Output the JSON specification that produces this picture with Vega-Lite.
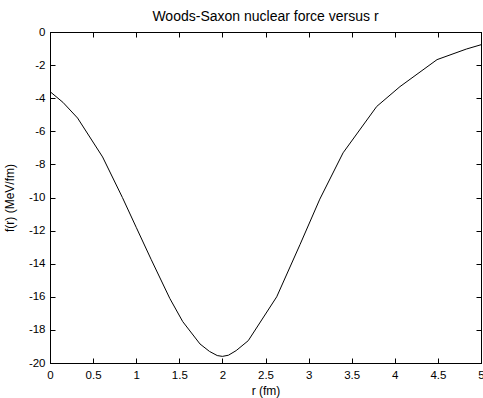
{
  "$schema": "https://vega.github.io/schema/vega-lite/v6.json",
  "autosize": "none",
  "width": 431,
  "height": 331,
  "padding": {"left": 50, "top": 32, "right": 2, "bottom": 35},
  "background": "white",
  "title": {"text": "Woods-Saxon nuclear force versus r", "fontSize": 14, "font": "Liberation Sans", "fontWeight": "normal", "color": "#000", "offset": 2, "anchor": "middle"},
  "config": {
    "view": {"stroke": "#000", "strokeWidth": 1},
    "axis": {"grid": false, "domainColor": "#000", "tickColor": "#000", "labelColor": "#000", "titleColor": "#000", "labelFont": "Liberation Sans", "titleFont": "Liberation Sans", "labelFontSize": 11.5, "titleFontSize": 12, "titleFontWeight": "normal", "tickSize": -5}
  },
  "data": {"values": [
    {"r": 0, "f": -3.6},
    {"r": 0.15, "f": -4.25},
    {"r": 0.32, "f": -5.2},
    {"r": 0.61, "f": -7.55},
    {"r": 0.84, "f": -10.0},
    {"r": 1.0, "f": -11.8},
    {"r": 1.175, "f": -13.76},
    {"r": 1.39, "f": -16.1},
    {"r": 1.54, "f": -17.5},
    {"r": 1.74, "f": -18.85},
    {"r": 1.85, "f": -19.3},
    {"r": 1.94, "f": -19.55},
    {"r": 2.0, "f": -19.6},
    {"r": 2.07, "f": -19.53},
    {"r": 2.16, "f": -19.25},
    {"r": 2.3, "f": -18.65},
    {"r": 2.63, "f": -16.0},
    {"r": 2.9, "f": -12.85},
    {"r": 3.13, "f": -10.1},
    {"r": 3.4, "f": -7.3},
    {"r": 3.79, "f": -4.5},
    {"r": 4.06, "f": -3.3},
    {"r": 4.49, "f": -1.67},
    {"r": 4.83, "f": -1.03},
    {"r": 5.0, "f": -0.77}
  ]},
  "layer": [
    {
      "mark": {"type": "line", "color": "#000", "strokeWidth": 1, "clip": true},
      "encoding": {
        "x": {"field": "r", "type": "quantitative", "scale": {"domain": [0, 5], "nice": false, "zero": false},
              "axis": {"orient": "bottom", "title": "r (fm)", "values": [0,0.5,1,1.5,2,2.5,3,3.5,4,4.5,5], "labelExpr": "'' + datum.value", "labelFlush": false, "labelPadding": 11, "titlePadding": 5}},
        "y": {"field": "f", "type": "quantitative", "scale": {"domain": [-20, 0], "nice": false, "zero": false},
              "axis": {"orient": "left", "title": "f(r) (MeV/fm)", "values": [-20,-18,-16,-14,-12,-10,-8,-6,-4,-2,0], "labelExpr": "'' + datum.value", "labelFlush": false, "labelPadding": 10, "titlePadding": 12}}
      }
    },
    {
      "mark": {"type": "line", "opacity": 0},
      "encoding": {
        "x": {"field": "r", "type": "quantitative", "scale": {"domain": [0, 5], "nice": false, "zero": false},
              "axis": {"orient": "top", "title": null, "labels": false, "values": [0,0.5,1,1.5,2,2.5,3,3.5,4,4.5,5]}},
        "y": {"field": "f", "type": "quantitative", "scale": {"domain": [-20, 0], "nice": false, "zero": false},
              "axis": {"orient": "right", "title": null, "labels": false, "values": [-20,-18,-16,-14,-12,-10,-8,-6,-4,-2,0]}}
      }
    }
  ],
  "resolve": {"axis": {"x": "independent", "y": "independent"}}
}
